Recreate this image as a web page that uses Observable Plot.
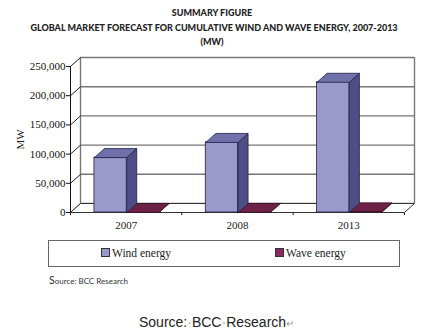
<!DOCTYPE html>
<html>
<head>
<meta charset="utf-8">
<script src="https://cdn.jsdelivr.net/npm/d3@7"></script>
<script src="https://cdn.jsdelivr.net/npm/@observablehq/plot@0.6"></script>
<style>
  html, body { margin: 0; padding: 0; background: #fff; width: 424px; height: 334px; overflow: hidden; position: relative; }
  #title { position: absolute; left: 0; top: 0; width: 424px; height: 50px; font-family: Lato, "Liberation Sans", sans-serif; font-weight: 900; color: #222; text-align: center; font-size: 9px; line-height: 14.5px; padding-top: 6px; box-sizing: border-box; }
  #title div.l2 { padding-left: 4px; }
  #chart { position: absolute; left: 0; top: 50px; }
  #legend { position: absolute; left: 48px; top: 240px; width: 352px; height: 27px; box-sizing: border-box; border: 1.5px solid #666; font-family: "Liberation Serif", serif; font-size: 11.5px; color: #222; }
  .item { position: absolute; top: 6px; white-space: nowrap; }
  .sw { display: inline-block; width: 7px; height: 7px; border: 1px solid #333; margin-right: 2px; vertical-align: 0px; }
  #src1 { position: absolute; left: 49px; top: 274px; font-family: Lato, "Liberation Sans", sans-serif; font-size: 8px; color: #333; white-space: nowrap; }
  #src1 .big { font-size: 10.5px; }
  #src2 { position: absolute; left: 139px; top: 314px; font-family: "Liberation Sans", Arial, sans-serif; font-size: 14px; color: #222; white-space: nowrap; }
  #src2 .dot { color: #aaa; }
  #src2 .ret { color: #999; font-size: 10px; }
</style>
</head>
<body>
<div id="title">
  <div>SUMMARY FIGURE</div>
  <div class="l2">GLOBAL MARKET FORECAST FOR CUMULATIVE WIND AND WAVE ENERGY, 2007-2013</div>
  <div>(MW)</div>
</div>
<div id="chart"></div>
<div id="legend">
  <div class="item" style="left:52px"><span class="sw" style="background:#9999cc"></span>Wind energy</div>
  <div class="item" style="left:226px"><span class="sw" style="background:#8a2a5a"></span>Wave energy</div>
</div>
<div id="src1"><span class="big">S</span>ource: BCC Research</div>
<div id="src2">Source:<span class="dot">·</span>BCC<span class="dot">·</span>Research<span class="ret">↵</span></div>
<script>
// ---- data ----
const years = ["2007", "2008", "2013"];
const wind = [94000, 120000, 223000];
const wave = [150, 250, 1200];
const yTicks = [0, 50000, 100000, 150000, 200000, 250000];

// ---- 3D depth (in data units) ----
const DX = 0.09;      // category units
const DY = 15400;     // MW
const WIND_X = [0.215, 0.505];
const WAVE_X = [0.505, 0.795];

function boxPolys(i, v, xs, key) {
  const a = i + xs[0], b = i + xs[1];
  const top = [[a, v], [b, v], [b + DX, v + DY], [a + DX, v + DY], [a, v]]
    .map(([x, y]) => ({poly: key + "top" + i, x, y}));
  const side = [[b, 0], [b + DX, DY], [b + DX, v + DY], [b, v], [b, 0]]
    .map(([x, y]) => ({poly: key + "side" + i, x, y}));
  const front = {x1: a, x2: b, y1: 0, y2: v};
  return {top, side, front};
}

const windP = years.map((_, i) => boxPolys(i, wind[i], WIND_X, "w"));
const waveP = years.map((_, i) => boxPolys(i, wave[i], WAVE_X, "v"));

const floorPoly = [[0, 0], [3, 0], [3 + DX, DY], [DX, DY], [0, 0]].map(([x, y]) => ({x, y}));

const plot = Plot.plot({
  width: 424,
  height: 185,
  marginLeft: 70,
  marginRight: 10,
  marginTop: 7,
  marginBottom: 23,
  x: {domain: [0, 3 + DX], ticks: [0, 1, 2, 3], tickFormat: () => "", tickSize: 3, label: null},
  y: {domain: [0, 250000 + DY], ticks: yTicks, tickFormat: d3.format(","), tickSize: 4, tickPadding: 1, label: null},
  style: {fontFamily: "'Liberation Serif', serif", fontSize: "11px", color: "#111", background: "transparent", overflow: "visible"},
  marks: [
    // back wall grid lines
    Plot.ruleY(yTicks, {y: d => d + DY, x1: DX, x2: 3 + DX, stroke: "#777", strokeWidth: 1.4}),
    // back wall side edges
    Plot.ruleX([DX, 3 + DX], {x: d => d, y1: DY, y2: 250000 + DY, stroke: "#777", strokeWidth: 1.4}),
    // left wall diagonals
    Plot.link(yTicks, {x1: 0, y1: d => d, x2: DX, y2: d => d + DY, stroke: "#222", strokeWidth: 1}),
    // floor
    Plot.line(floorPoly, {x: "x", y: "y", fill: "white", stroke: "#333", strokeWidth: 1}),
    // front axis line
    Plot.ruleX([0], {y1: 0, y2: 250000, stroke: "#111", strokeWidth: 1}),
    // wave bars
    Plot.rectY(waveP.map(d => d.front), {x1: "x1", x2: "x2", y1: "y1", y2: "y2", fill: "#8a2a5a", stroke: "#2a0a1a", strokeWidth: 0.6}),
    Plot.line(waveP.flatMap(d => d.side), {x: "x", y: "y", z: "poly", fill: "#4d1030", stroke: "#2a0a1a", strokeWidth: 0.6}),
    Plot.line(waveP.flatMap(d => d.top), {x: "x", y: "y", z: "poly", fill: "#6e2146", stroke: "#2a0a1a", strokeWidth: 0.6}),
    // wind bars
    Plot.rectY(windP.map(d => d.front), {x1: "x1", x2: "x2", y1: "y1", y2: "y2", fill: "#9999cc", stroke: "#1e1e44", strokeWidth: 0.8}),
    Plot.line(windP.flatMap(d => d.side), {x: "x", y: "y", z: "poly", fill: "#4e4e86", stroke: "#1e1e44", strokeWidth: 0.8}),
    Plot.line(windP.flatMap(d => d.top), {x: "x", y: "y", z: "poly", fill: "#7070aa", stroke: "#1e1e44", strokeWidth: 0.8}),
    // x category labels
    Plot.text(years, {x: (d, i) => i + 0.5, y: 0, text: d => d, dy: 13, fill: "#222", fontSize: 11}),
    // y axis title
    Plot.text(["MW"], {x: 0, y: 125000, text: d => d, rotate: -90, dx: -50, fill: "#222", fontSize: 11})
  ]
});
document.getElementById("chart").appendChild(plot);
</script>
</body>
</html>
